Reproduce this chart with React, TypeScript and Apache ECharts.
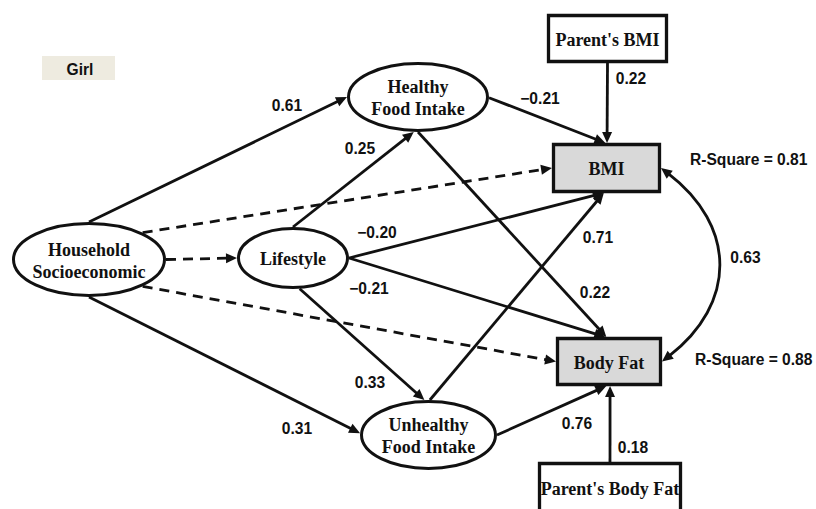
import React, { useEffect, useRef } from "react";
import * as echarts from "echarts";

// ---------- data ----------
const groupLabel = "Girl";

const nodeIds = ["HH", "LS", "HF", "UF", "BMI", "BF", "PBMI", "PBF"];
const nodeNames = [
  "Household\nSocioeconomic",
  "Lifestyle",
  "Healthy\nFood Intake",
  "Unhealthy\nFood Intake",
  "BMI",
  "Body Fat",
  "Parent's BMI",
  "Parent's Body Fat",
];

const pathFrom = ["HH", "HH", "HH", "HH", "HH", "LS", "LS", "LS", "LS", "HF", "HF", "UF", "UF", "PBMI", "PBF"];
const pathTo = ["HF", "BMI", "LS", "BF", "UF", "HF", "BMI", "BF", "UF", "BMI", "BF", "BMI", "BF", "BMI", "BF"];
const pathCoefficients = ["0.61", "", "", "", "0.31", "0.25", "\u22120.20", "\u22120.21", "0.33", "\u22120.21", "0.22", "0.71", "0.76", "0.22", "0.18"];
const pathSignificant = [true, false, false, false, true, true, true, true, true, true, true, true, true, true, true];

const rSquareNodes = ["BMI", "BF"];
const rSquareValues = ["0.81", "0.88"];

const covarianceNodes = ["BMI", "BF"];
const covarianceValue = "0.63";

// ---------- layout & style ----------
const INK = "#111111";

type NodeBox = { cx: number; cy: number; w: number; h: number; shape: "ellipse" | "rect"; fill: string };
const NODE_LAYOUT: Record<string, NodeBox> = {
  HH: { cx: 89, cy: 259.5, w: 154, h: 75, shape: "ellipse", fill: "#ffffff" },
  LS: { cx: 293, cy: 258, w: 112, h: 62, shape: "ellipse", fill: "#ffffff" },
  HF: { cx: 418, cy: 97, w: 142, h: 70, shape: "ellipse", fill: "#ffffff" },
  UF: { cx: 428.5, cy: 435, w: 137, h: 70, shape: "ellipse", fill: "#ffffff" },
  BMI: { cx: 606.5, cy: 168, w: 109, h: 50, shape: "rect", fill: "#d9d9d9" },
  BF: { cx: 609, cy: 361.5, w: 106, h: 49, shape: "rect", fill: "#d9d9d9" },
  PBMI: { cx: 607.5, cy: 38.5, w: 121, h: 49, shape: "rect", fill: "#ffffff" },
  PBF: { cx: 610, cy: 488, w: 144, h: 52, shape: "rect", fill: "#ffffff" },
};

const EDGE_ANCHORS: [number, number][][] = [
  [[0, -1], [-1, 0]],
  [[0.7, -0.72], [-1, 0]],
  [[1, 0], [-1, 0]],
  [[0.7, 0.72], [-1, 0]],
  [[0, 1], [-1, -0.05]],
  [[0, -1], [-0.06, 1]],
  [[1, 0], [-0.05, 1]],
  [[1, 0], [-0.07, -1]],
  [[0.12, 1], [-0.06, -1]],
  [[1, 0.02], [-0.02, -1]],
  [[0, 1], [-0.05, -1]],
  [[0.02, -1], [-0.05, 1]],
  [[1, 0], [-0.05, 1]],
  [[0, 1], [0.01, -1]],
  [[0, -1], [0.02, 1]],
];

const EDGE_LABEL_POS: [number, number][] = [
  [287, 105.5], [0, 0], [0, 0], [0, 0], [297, 428.5], [360, 148.5], [377, 232], [369, 288],
  [370, 382.5], [540, 98], [595, 292.5], [598, 237], [577, 423.5], [631, 78], [633, 447.5],
];

const RSQ_LABEL_POS: [number, number][] = [[690, 159.5], [695, 359.5]];
const COV_CTRL_X = 737;
const COV_LABEL_POS: [number, number] = [745.5, 257];
const GIRL_BOX = { x: 42, y: 56, w: 73, h: 24 };

function anchorPoint(id: string, a: [number, number]): [number, number] {
  const n = NODE_LAYOUT[id];
  if (n.shape === "ellipse") {
    const t = Math.atan2(a[1], a[0]);
    return [n.cx + (n.w / 2) * Math.cos(t), n.cy + (n.h / 2) * Math.sin(t)];
  }
  return [n.cx + (a[0] * n.w) / 2, n.cy + (a[1] * n.h) / 2];
}

function arrowHead(tip: number[], u: number[], len = 11, half = 5) {
  const bx = tip[0] - u[0] * len;
  const by = tip[1] - u[1] * len;
  return [
    [tip[0], tip[1]],
    [bx - u[1] * half, by + u[0] * half],
    [bx + u[1] * half, by - u[0] * half],
  ];
}

const LABEL_FONT = 'bold 15.6px "Liberation Sans", Arial, sans-serif';
const NODE_FONT = 'bold 18px "Liberation Serif", "Times New Roman", serif';

const edgeData = pathFrom.map((f, i) => {
  const p0 = anchorPoint(f, EDGE_ANCHORS[i][0]);
  const p1 = anchorPoint(pathTo[i], EDGE_ANCHORS[i][1]);
  return [p0[0], p0[1], p1[0], p1[1], EDGE_LABEL_POS[i][0], EDGE_LABEL_POS[i][1]];
});

const nodeData = nodeIds.map((id) => {
  const n = NODE_LAYOUT[id];
  return [n.cx, n.cy, n.w, n.h];
});

const rsqData = rSquareNodes.map((_, i) => [RSQ_LABEL_POS[i][0], RSQ_LABEL_POS[i][1]]);

const covA = anchorPoint(covarianceNodes[0], [1, 0]);
const covB = anchorPoint(covarianceNodes[1], [1, 0]);
const covData = [[covA[0], covA[1], covB[0], covB[1], COV_LABEL_POS[0], COV_LABEL_POS[1]]];

export default function App() {
  const ref = useRef<HTMLDivElement>(null);
  useEffect(() => {
    document.body.style.margin = "0";
    const chart = echarts.init(ref.current!, null, { renderer: "svg" });
    const option: any = {
      animation: false,
      backgroundColor: "#ffffff",
      grid: { left: 0, right: 0, top: 0, bottom: 0 },
      xAxis: { type: "value", min: 0, max: 816, show: false },
      yAxis: { type: "value", min: 0, max: 509, inverse: true, show: false },
      graphic: [
        {
          type: "group",
          x: GIRL_BOX.x,
          y: GIRL_BOX.y,
          children: [
            { type: "rect", shape: { x: 0, y: 0, width: GIRL_BOX.w, height: GIRL_BOX.h }, style: { fill: "#eeebe0" } },
            {
              type: "text",
              x: GIRL_BOX.w / 2 + 1.5,
              y: GIRL_BOX.h / 2 + 1,
              style: { text: groupLabel, font: LABEL_FONT, fill: INK, align: "center", verticalAlign: "middle" },
            },
          ],
        },
      ],
      series: [
        {
          type: "custom",
          name: "paths",
          coordinateSystem: "cartesian2d",
          clip: false,
          data: edgeData,
          renderItem: (params: any, api: any) => {
            const i = params.dataIndex;
            const p0 = api.coord([api.value(0), api.value(1)]);
            const p1 = api.coord([api.value(2), api.value(3)]);
            const lp = api.coord([api.value(4), api.value(5)]);
            const dx = p1[0] - p0[0];
            const dy = p1[1] - p0[1];
            const d = Math.hypot(dx, dy);
            const u = [dx / d, dy / d];
            const L = 11;
            const e = [p1[0] - u[0] * L * 0.8, p1[1] - u[1] * L * 0.8];
            const lineStyle: any = { stroke: INK, lineWidth: 2.8, fill: "none" };
            if (!pathSignificant[i]) lineStyle.lineDash = [10, 7];
            const children: any[] = [
              { type: "line", shape: { x1: p0[0], y1: p0[1], x2: e[0], y2: e[1] }, style: lineStyle },
              { type: "polygon", shape: { points: arrowHead(p1, u, L, 5) }, style: { fill: INK } },
            ];
            if (pathCoefficients[i]) {
              children.push({
                type: "text",
                style: {
                  text: pathCoefficients[i],
                  x: lp[0],
                  y: lp[1],
                  textAlign: "center",
                  textVerticalAlign: "middle",
                  font: LABEL_FONT,
                  fill: INK,
                },
              });
            }
            return { type: "group", children };
          },
        },
        {
          type: "custom",
          name: "covariance",
          coordinateSystem: "cartesian2d",
          clip: false,
          data: covData,
          renderItem: (params: any, api: any) => {
            const a = api.coord([api.value(0), api.value(1)]);
            const b = api.coord([api.value(2), api.value(3)]);
            const lp = api.coord([api.value(4), api.value(5)]);
            const cx = api.coord([COV_CTRL_X, 0])[0];
            const c1 = [cx, a[1] + (b[1] - a[1]) * 0.3];
            const c2 = [cx, a[1] + (b[1] - a[1]) * 0.7];
            const L = 11;
            const ua0 = [a[0] - c1[0], a[1] - c1[1]];
            const na = Math.hypot(ua0[0], ua0[1]);
            const ua = [ua0[0] / na, ua0[1] / na];
            const ub0 = [b[0] - c2[0], b[1] - c2[1]];
            const nb = Math.hypot(ub0[0], ub0[1]);
            const ub = [ub0[0] / nb, ub0[1] / nb];
            const s = [a[0] - ua[0] * L * 0.8, a[1] - ua[1] * L * 0.8];
            const t = [b[0] - ub[0] * L * 0.8, b[1] - ub[1] * L * 0.8];
            return {
              type: "group",
              children: [
                {
                  type: "bezierCurve",
                  shape: { x1: s[0], y1: s[1], x2: t[0], y2: t[1], cpx1: c1[0], cpy1: c1[1], cpx2: c2[0], cpy2: c2[1] },
                  style: { stroke: INK, lineWidth: 2.8, fill: "none" },
                },
                { type: "polygon", shape: { points: arrowHead(a, ua, L, 5) }, style: { fill: INK } },
                { type: "polygon", shape: { points: arrowHead(b, ub, L, 5) }, style: { fill: INK } },
                {
                  type: "text",
                  style: {
                    text: covarianceValue,
                    x: lp[0],
                    y: lp[1],
                    textAlign: "center",
                    textVerticalAlign: "middle",
                    font: LABEL_FONT,
                    fill: INK,
                  },
                },
              ],
            };
          },
        },
        {
          type: "custom",
          name: "variables",
          coordinateSystem: "cartesian2d",
          clip: false,
          data: nodeData,
          renderItem: (params: any, api: any) => {
            const i = params.dataIndex;
            const n = NODE_LAYOUT[nodeIds[i]];
            const c = api.coord([api.value(0), api.value(1)]);
            const sz = api.size([api.value(2), api.value(3)]);
            const w = sz[0];
            const h = sz[1];
            const shapeEl =
              n.shape === "ellipse"
                ? {
                    type: "ellipse",
                    shape: { cx: c[0], cy: c[1], rx: w / 2 - 1.5, ry: h / 2 - 1.5 },
                    style: { fill: n.fill, stroke: INK, lineWidth: 3 },
                  }
                : {
                    type: "rect",
                    shape: { x: c[0] - w / 2 + 1.5, y: c[1] - h / 2 + 1.5, width: w - 3, height: h - 3 },
                    style: { fill: n.fill, stroke: INK, lineWidth: 3.3 },
                  };
            return {
              type: "group",
              children: [
                shapeEl,
                {
                  type: "text",
                  style: {
                    text: nodeNames[i],
                    x: c[0],
                    y: c[1] + 1,
                    textAlign: "center",
                    textVerticalAlign: "middle",
                    font: NODE_FONT,
                    lineHeight: 22,
                    fill: INK,
                  },
                },
              ],
            };
          },
        },
        {
          type: "custom",
          name: "rsquare",
          coordinateSystem: "cartesian2d",
          clip: false,
          data: rsqData,
          renderItem: (params: any, api: any) => {
            const i = params.dataIndex;
            const p = api.coord([api.value(0), api.value(1)]);
            return {
              type: "text",
              style: {
                text: "R-Square = " + rSquareValues[i],
                x: p[0],
                y: p[1],
                textAlign: "left",
                textVerticalAlign: "middle",
                font: LABEL_FONT,
                fill: INK,
              },
            };
          },
        },
      ],
    };
    chart.setOption(option);
    return () => chart.dispose();
  }, []);
  return <div ref={ref} style={{ width: 816, height: 509 }} />;
}
